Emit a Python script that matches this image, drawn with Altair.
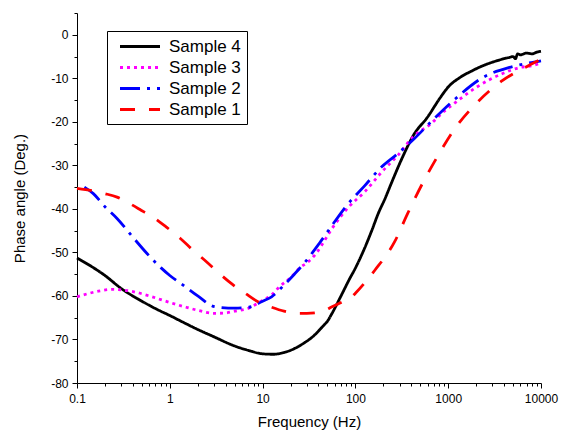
import altair as alt
import pandas as pd

names = ["Sample 4", "Sample 3", "Sample 2", "Sample 1"]
colors = ["#000000", "#ff00ff", "#0000ff", "#ff0000"]
dashes = [[1, 0], [3, 4], [20, 7, 3, 7], [15, 14]]

s4_f = [0.1, 0.15, 0.2, 0.3, 0.5, 0.7, 1, 1.5, 2, 3, 5, 7, 10, 13, 17, 22, 28, 35, 44, 50, 56, 70,
        85, 100, 127, 150, 176, 210, 243, 310, 430, 595, 824, 1000, 1343, 1800, 2370, 3000, 4000,
        4570, 5000, 5300, 5600, 6000, 7000, 8000, 9000, 10000]
s4_v = [-51.3, -53.5, -55.3, -58.3, -61.2, -62.9, -64.5, -66.4, -67.7, -69.4, -71.5, -72.5, -73.3,
        -73.4, -73.0, -72.1, -70.8, -69.3, -67.1, -65.8, -64.0, -60.0, -56.4, -53.6, -48.8, -45.0,
        -41.1, -37.5, -34.2, -28.9, -22.8, -19.0, -14.4, -12.0, -9.8, -8.3, -7.1, -6.3, -5.5,
        -5.2, -5.0, -5.5, -4.4, -4.6, -4.2, -4.4, -4.0, -3.8]

s3_f = [0.1, 0.13, 0.17, 0.24, 0.3, 0.4, 0.6, 1, 1.5, 2, 3, 4, 5, 7.1, 10, 12.5, 15, 20, 26, 30,
        37.5, 42, 56, 84.5, 127, 191, 286, 430, 646, 900, 1140, 2000, 3860, 6000, 8000, 10000]
s3_v = [-60.2, -59.5, -58.9, -58.5, -58.6, -59.0, -60.0, -61.5, -62.6, -63.3, -64.0, -63.9, -63.5,
        -62.8, -61.0, -59.8, -58.0, -55.8, -53.3, -52.4, -50.3, -48.8, -44.5, -39.6, -36.0, -31.6,
        -27.7, -23.2, -20.5, -17.6, -15.9, -12.1, -8.9, -7.5, -7.1, -6.5]

s2_f = [0.12, 0.15, 0.2, 0.27, 0.4, 0.565, 0.8, 1, 1.39, 2, 3.1, 5, 7.1, 10, 12.5, 17, 22, 28,
        40.6, 56, 78, 127, 191, 286, 430, 646, 1140, 2370, 4570, 7000, 10000]
s2_v = [-35.0, -36.5, -39.5, -42.2, -46.5, -50.2, -53.5, -55.3, -57.5, -60.0, -62.5, -62.8, -62.6,
        -61.2, -60.2, -57.5, -55.0, -52.5, -48.0, -43.8, -39.6, -34.6, -30.4, -27.3, -23.9, -20.1,
        -15.1, -9.8, -7.5, -6.6, -6.0]

s1_f = [0.1, 0.15, 0.2, 0.27, 0.35, 0.49, 0.7, 0.92, 1.3, 1.78, 2.5, 3.4, 4.7, 6.5, 9, 12.5, 17,
        24, 30, 42, 56, 70, 92, 100, 162, 264, 365, 527, 760, 1140, 2000, 3860, 6760, 10000]
s1_v = [-35.3, -35.9, -36.5, -37.3, -38.5, -40.3, -42.3, -44.2, -46.8, -49.5, -52.2, -54.8, -57.3,
        -59.4, -61.4, -62.6, -63.5, -64.0, -64.0, -63.7, -62.5, -61.5, -60.2, -59.4, -54.1, -47.6,
        -41.1, -34.2, -28.1, -22.0, -15.8, -10.5, -7.5, -5.6]

x_ticks = [0.1, 0.2, 0.3, 0.4, 0.5, 0.6, 0.7, 0.8, 0.9,
           1, 2, 3, 4, 5, 6, 7, 8, 9,
           10, 20, 30, 40, 50, 60, 70, 80, 90,
           100, 200, 300, 400, 500, 600, 700, 800, 900,
           1000, 2000, 3000, 4000, 5000, 6000, 7000, 8000, 9000, 10000]
y_ticks = list(range(-80, 6, 5))

rows = []
for name, fs, vs in [("Sample 4", s4_f, s4_v), ("Sample 3", s3_f, s3_v),
                     ("Sample 2", s2_f, s2_v), ("Sample 1", s1_f, s1_v)]:
    for i, (f, v) in enumerate(zip(fs, vs)):
        rows.append({"series": name, "f": f, "v": v, "i": i})
df = pd.DataFrame(rows)

x_major = "abs(log(datum.value)/LN10 - round(log(datum.value)/LN10)) < 0.001"
y_major = "datum.value % 10 == 0"

legend = alt.Legend(
    title=None, orient="none", legendX=30, legendY=18,
    strokeColor="black", padding=6, fillColor="white",
    symbolType="M-2.5,0H2.5", symbolSize=256, symbolStrokeWidth=3,
    symbolOffset=17.5, labelOffset=19.5, rowPadding=3,
    labelFontSize=17, labelFont="Liberation Sans", labelColor="black",
)

chart = alt.Chart(df).mark_line(strokeWidth=2.8, interpolate="monotone").encode(
    x=alt.X("f:Q", scale=alt.Scale(type="log", domain=[0.1, 10000], nice=False),
            axis=alt.Axis(title="Frequency (Hz)", values=x_ticks, labelFlush=False,
                          labelExpr=f"({x_major}) ? toString(datum.value) : ''",
                          tickSize={"condition": {"test": x_major, "value": 5}, "value": 3},
                          labelPadding=5, titlePadding=10)),
    y=alt.Y("v:Q", scale=alt.Scale(domain=[-80, 5], nice=False),
            axis=alt.Axis(title="Phase angle (Deg.)", values=y_ticks,
                          labelExpr=f"({y_major}) ? toString(datum.value) : ''",
                          tickSize={"condition": {"test": y_major, "value": 5}, "value": 3},
                          labelPadding=4, titlePadding=23)),
    color=alt.Color("series:N", scale=alt.Scale(domain=names, range=colors), legend=legend),
    strokeDash=alt.StrokeDash("series:N", scale=alt.Scale(domain=names, range=dashes), legend=legend),
    order="i:Q",
).properties(
    width=464, height=370, autosize="none",
    padding={"left": 69, "top": 5, "right": 18, "bottom": 47},
).configure_view(stroke="transparent").configure_axis(
    grid=False, domainColor="black", tickColor="black", domainWidth=1, tickWidth=1,
    labelFont="Liberation Sans", labelFontSize=12, labelColor="black",
    titleFont="Liberation Sans", titleFontSize=15, titleFontWeight="normal", titleColor="black",
)

chart.save("out.html", embed_options={"renderer": "svg", "actions": False})
